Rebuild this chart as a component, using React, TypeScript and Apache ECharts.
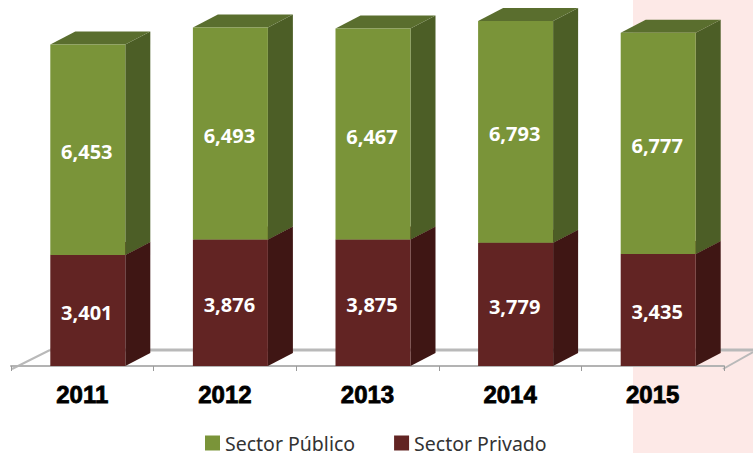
import React, { useEffect, useRef } from "react";
import * as echarts from "echarts";

const years = ["2011", "2012", "2013", "2014", "2015"];
const privado = [3401, 3876, 3875, 3779, 3435];
const publico = [6453, 6493, 6467, 6793, 6777];
const fmt = (v: number) => v.toLocaleString("en-US");

const DX = 25;
const DY = 13;
const W = 75;
const OFF = 5.5;

function renderBar(front: string, top: string, side: string) {
  return (_: any, api: any) => {
    const i = api.value(0);
    const base = api.value(1);
    const val = api.value(2);
    const c0 = api.coord([i, base]);
    const c1 = api.coord([i, base + val]);
    const x0 = c0[0] + OFF - W / 2;
    const x1 = x0 + W;
    const y0 = c0[1];
    const y1 = c1[1];
    return {
      type: "group",
      children: [
        { type: "polygon", shape: { points: [[x1, y1], [x1 + DX, y1 - DY], [x1 + DX, y0 - DY], [x1, y0]] }, style: { fill: side } },
        { type: "polygon", shape: { points: [[x0, y1], [x0 + DX, y1 - DY], [x1 + DX, y1 - DY], [x1, y1]] }, style: { fill: top } },
        { type: "rect", shape: { x: x0, y: y1, width: W, height: y0 - y1 }, style: { fill: front } },
        {
          type: "text",
          x: (x0 + x1) / 2 - 1,
          y: (y0 + y1) / 2 + 2,
          style: {
            text: fmt(val),
            fill: "#ffffff",
            font: 'bold 20px "Open Sans"',
            align: "center",
            verticalAlign: "middle",
          },
        },
      ],
    };
  };
}

export default function App() {
  const ref = useRef<HTMLDivElement>(null);
  useEffect(() => {
    const chart = echarts.init(ref.current!, null, { renderer: "svg" });
    const floor = { stroke: "#b9b9b9", lineWidth: 2 };
    chart.setOption({
      animation: false,
      backgroundColor: "#ffffff",
      grid: { left: 11, top: 7, width: 713, height: 359 },
      xAxis: {
        type: "category",
        data: years,
        offset: 3,
        axisLine: { lineStyle: { color: "#b3b3b3", width: 2 } },
        axisTick: { show: true, length: 5, lineStyle: { color: "#9a9a9a", width: 1 } },
        axisLabel: {
          color: "#000000",
          fontFamily: '"Liberation Sans"',
          fontWeight: "bold",
          fontSize: 24,
          margin: 13,
          textBorderColor: "#000000",
          textBorderWidth: 0.8,
        },
      },
      yAxis: { type: "value", min: 0, max: 11000, show: false },
      legend: {
        left: 205,
        top: 433,
        padding: 0,
        icon: "rect",
        itemWidth: 15,
        itemHeight: 15,
        itemGap: 39,
        data: ["Sector Público", "Sector Privado"],
        textStyle: { fontFamily: '"Noto Sans"', fontSize: 19.5, lineHeight: 15, color: "#333333" },
      },
      graphic: [
        { type: "rect", z: -10, shape: { x: 633, y: 0, width: 120, height: 453 }, style: { fill: "#fde9e7" } },
        { type: "line", z: -5, shape: { x1: 12, y1: 369, x2: 50, y2: 350 }, style: floor },
        { type: "line", z: -5, shape: { x1: 50, y1: 350, x2: 753, y2: 350 }, style: { ...floor, lineWidth: 3 } },
        { type: "line", z: -5, shape: { x1: 723, y1: 369, x2: 753, y2: 352 }, style: floor },
      ],
      series: [
        {
          name: "Sector Privado",
          type: "custom",
          itemStyle: { color: "#622423" },
          renderItem: renderBar("#622423", "#4f1c1b", "#3f1614"),
          encode: { x: 0, y: 2 },
          data: years.map((_, i) => [i, 0, privado[i]]),
          z: 3,
        },
        {
          name: "Sector Público",
          type: "custom",
          itemStyle: { color: "#7a9439" },
          renderItem: renderBar("#7a9439", "#5a6e2e", "#4c5e26"),
          encode: { x: 0, y: 2 },
          data: years.map((_, i) => [i, privado[i], publico[i]]),
          z: 4,
        },
      ],
    });
    return () => chart.dispose();
  }, []);
  return <div ref={ref} style={{ position: "fixed", left: 0, top: 0, width: 753, height: 453 }} />;
}
